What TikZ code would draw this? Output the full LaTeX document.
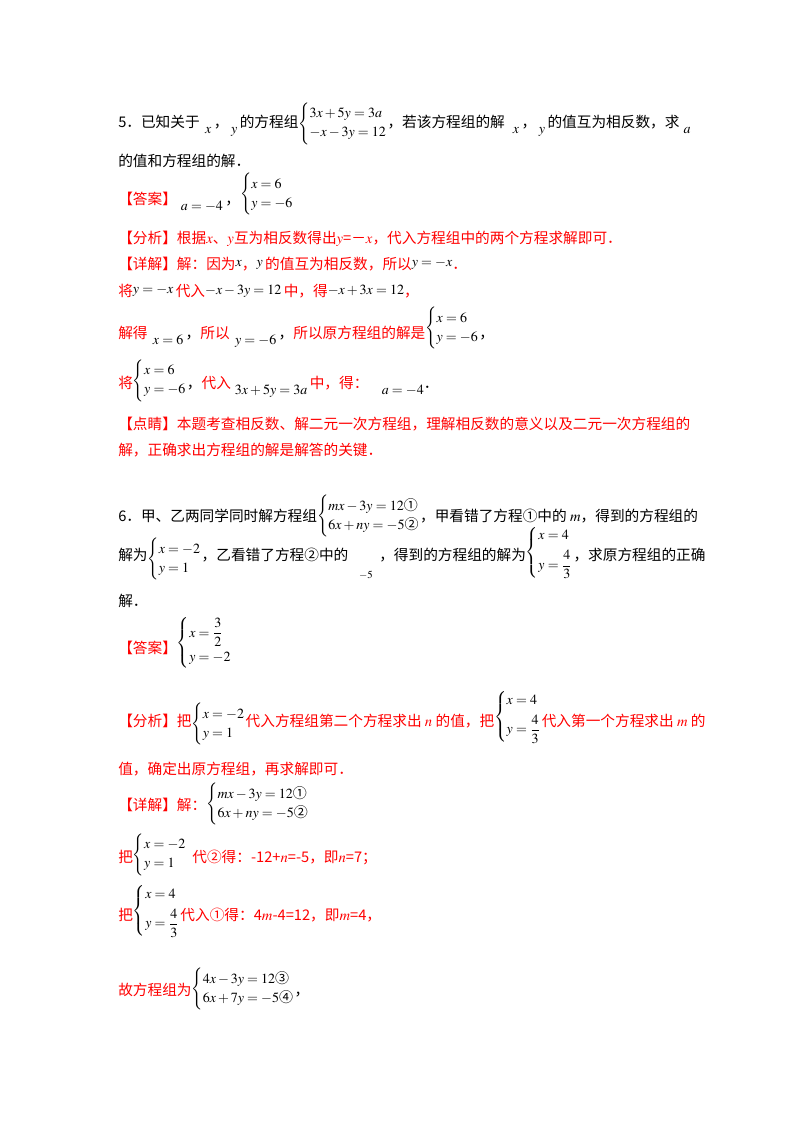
\documentclass[tikz,border=0pt]{standalone}
\usepackage{amsmath}
\usepackage{mathptmx}
\usepackage{fontspec}
\setmainfont{Noto Sans CJK SC}
\newcommand\mysys[1]{{\fontsize{10.5}{12}\selectfont$\renewcommand\arraystretch{1.2}\left\{\begin{array}{@{}l@{}}#1\end{array}\right.$}}
\newcommand\mth[1]{{\color{black}\fontsize{10.5}{12}\selectfont$#1$}}
\newcommand\lo[2][-5pt]{\raisebox{#1}{\mth{#2}}}
\newcommand\sy[2][0pt]{{\color{black}\raisebox{#1}{\mysys{#2}}}}
\tikzset{t/.style={anchor=base west,inner sep=0,text=black,font=\fontsize{11}{13}\selectfont},
 r/.style={t,text=red}}
\begin{document}
\begin{tikzpicture}[x=0.75pt,y=-0.75pt]
\useasboundingbox[fill=white] (0,0) rectangle (800,1132);
% Q5
\node[t] (a1) at (118,127) {5．已知关于\hspace{4pt}\lo{x}\,，\hspace{2pt}\lo{y}\,的方程组\sy{3x+5y=3a\\-x-3y=12}，若该方程组的解\hspace{6pt}\lo{x}\,，\hspace{2pt}\lo{y}\,的值互为相反数，求\hspace{3pt}\lo{a}};
\node[t] (b1) at (118,166) {的值和方程组的解．};
\node[r] (c1) at (118,204) {【答案】\hspace{3pt}\lo{a=-4}\,\textcolor{black}{，}\sy[5pt]{x=6\\y=-6}};
\node[r] (d1) at (118,243) {【分析】根据$x$、$y$互为相反数得出$y$=－$x$，代入方程组中的两个方程求解即可．};
\node[r] (e1) at (118,269) {【详解】解：因为\lo[2pt]{x}，\lo[2pt]{y}\,的值互为相反数，所以\lo[2pt]{y=-x}．};
\node[r] (f1) at (118,296) {将\lo[2pt]{y=-x}\,代入\lo[1pt]{-x-3y=12}\,中，得\lo[1pt]{-x+3x=12}，};
\node[r] (g1) at (118,338) {解得\hspace{4pt}\lo{x=6}\,\textcolor{black}{，}所以\hspace{4pt}\lo{y=-6}\,\textcolor{black}{，}所以原方程组的解是\sy[5pt]{x=6\\y=-6}\textcolor{black}{，}};
\node[r] (h1) at (118,388) {将\sy[3pt]{x=6\\y=-6}\textcolor{black}{，}代入\hspace{3pt}\lo{3x+5y=3a}\,中，得：\hspace{10pt}\lo{a=-4}\textcolor{black}{．}};
\node[r] (k1) at (118,429) {【点睛】本题考查相反数、解二元一次方程组，理解相反数的意义以及二元一次方程组的};
\node[r] (k2) at (118,455) {解，正确求出方程组的解是解答的关键．};
% Q6
\node[t] (q1) at (118,521) {6．甲、乙两同学同时解方程组\sy[1pt]{mx-3y=12\text{①}\\6x+ny=-5\text{②}}，甲看错了方程①中的 $m$，得到的方程组的};
\node[t] (q4) at (118,560) {解为\sy[-2pt]{x=-2\\y=1}，乙看错了方程②中的\hspace{8pt}\raisebox{-14pt}{\fontsize{8}{9}\selectfont$-5$}\hspace{5pt}，得到的方程组的解为\sy[3pt]{x=4\\[4pt] y=\dfrac{4}{3}}，求原方程组的正确};
\node[t] (q11) at (118,606) {解．};
\node[r] (u1) at (118,653) {【答案】\sy[5pt]{x=\dfrac{3}{2}\\[4pt] y=-2}};
\node[r] (v1) at (118,726) {【分析】把\sy[-1pt]{x=-2\\y=1}代入方程组第二个方程求出 $n$ 的值，把\sy[4pt]{x=4\\[4pt] y=\dfrac{4}{3}}代入第一个方程求出 $m$ 的};
\node[r] (w1) at (118,774) {值，确定出原方程组，再求解即可．};
\node[r] (x1) at (118,810) {【详解】解：\sy[2pt]{mx-3y=12\text{①}\\6x+ny=-5\text{②}}};
\node[r] (y1) at (118,862) {把\sy[3pt]{x=-2\\y=1}\hspace{4pt}代②得：-12+$n$=-5，即$n$=7；};
\node[r] (z1) at (118,920) {把\sy[4pt]{x=4\\[4pt] y=\dfrac{4}{3}}代入①得：4$m$-4=12，即$m$=4，};
\node[r] (z4) at (118,995) {故方程组为\sy[2pt]{4x-3y=12\text{③}\\6x+7y=-5\text{④}}\textcolor{black}{，}};
\end{tikzpicture}
\end{document}
